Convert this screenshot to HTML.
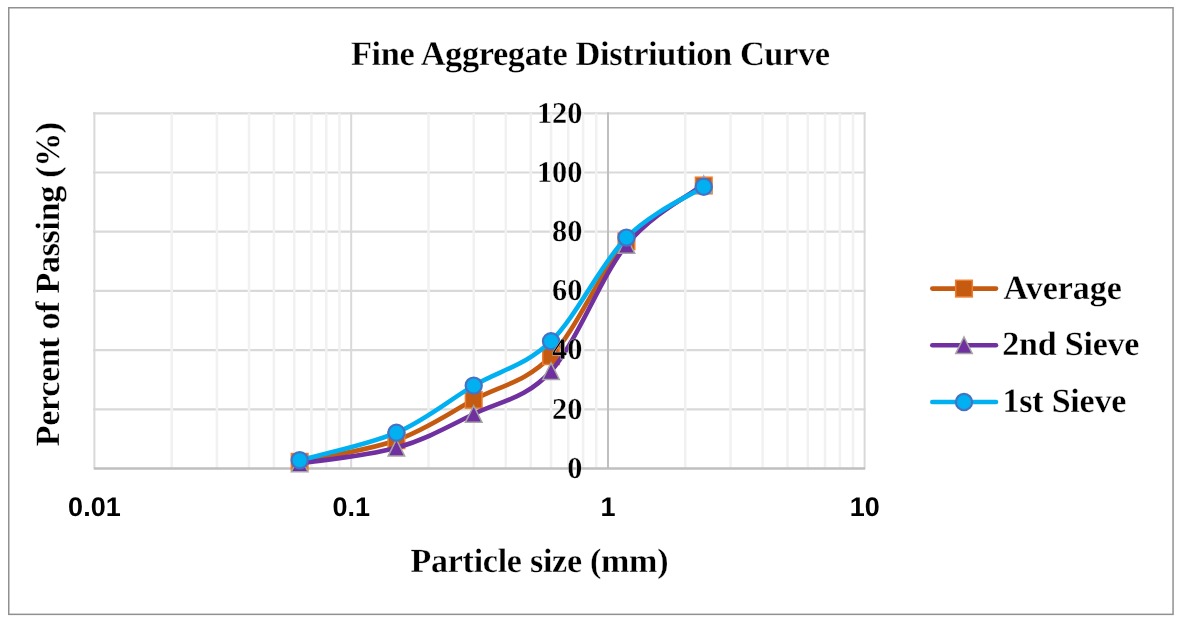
<!DOCTYPE html>
<html><head><meta charset="utf-8"><style>
html,body{margin:0;padding:0;background:#fff;}
body{width:1180px;height:622px;overflow:hidden;position:relative;}
svg{position:absolute;left:0;top:0;will-change:transform;}
text{font-family:"Liberation Serif",serif;font-weight:bold;fill:#000;text-rendering:geometricPrecision;stroke:#fff;stroke-width:0.3px;}
.yt{font-size:30.3px;}
.xt{font-family:"Liberation Sans",sans-serif;font-size:27px;stroke:none;}
.tt{font-size:34.4px;}
.at{font-size:34px;}
.lg{font-size:34px;}
</style></head><body>
<svg width="1180" height="622" viewBox="0 0 1180 622">
<rect x="0" y="0" width="1180" height="622" fill="#fff"/>
<rect x="8.75" y="7.75" width="1164.3" height="606.6" fill="#fff" stroke="#909090" stroke-width="1.5"/>
<line x1="93" y1="409.30" x2="865.6" y2="409.30" stroke="#D9D9D9" stroke-width="2.2"/>
<line x1="93" y1="350.10" x2="865.6" y2="350.10" stroke="#D9D9D9" stroke-width="2.2"/>
<line x1="93" y1="290.90" x2="865.6" y2="290.90" stroke="#D9D9D9" stroke-width="2.2"/>
<line x1="93" y1="231.70" x2="865.6" y2="231.70" stroke="#D9D9D9" stroke-width="2.2"/>
<line x1="93" y1="172.50" x2="865.6" y2="172.50" stroke="#D9D9D9" stroke-width="2.2"/>
<line x1="93" y1="113.30" x2="865.6" y2="113.30" stroke="#D9D9D9" stroke-width="2.2"/>
<line x1="171.70" y1="113.3" x2="171.70" y2="468.5" stroke="#F1F1F1" stroke-width="2.5"/>
<line x1="216.92" y1="113.3" x2="216.92" y2="468.5" stroke="#F1F1F1" stroke-width="2.5"/>
<line x1="249.01" y1="113.3" x2="249.01" y2="468.5" stroke="#F1F1F1" stroke-width="2.5"/>
<line x1="273.90" y1="113.3" x2="273.90" y2="468.5" stroke="#F1F1F1" stroke-width="2.5"/>
<line x1="294.23" y1="113.3" x2="294.23" y2="468.5" stroke="#F1F1F1" stroke-width="2.5"/>
<line x1="311.42" y1="113.3" x2="311.42" y2="468.5" stroke="#F1F1F1" stroke-width="2.5"/>
<line x1="326.31" y1="113.3" x2="326.31" y2="468.5" stroke="#F1F1F1" stroke-width="2.5"/>
<line x1="339.45" y1="113.3" x2="339.45" y2="468.5" stroke="#F1F1F1" stroke-width="2.5"/>
<line x1="428.50" y1="113.3" x2="428.50" y2="468.5" stroke="#F1F1F1" stroke-width="2.5"/>
<line x1="473.72" y1="113.3" x2="473.72" y2="468.5" stroke="#F1F1F1" stroke-width="2.5"/>
<line x1="505.81" y1="113.3" x2="505.81" y2="468.5" stroke="#F1F1F1" stroke-width="2.5"/>
<line x1="530.70" y1="113.3" x2="530.70" y2="468.5" stroke="#F1F1F1" stroke-width="2.5"/>
<line x1="551.03" y1="113.3" x2="551.03" y2="468.5" stroke="#F1F1F1" stroke-width="2.5"/>
<line x1="568.22" y1="113.3" x2="568.22" y2="468.5" stroke="#F1F1F1" stroke-width="2.5"/>
<line x1="583.11" y1="113.3" x2="583.11" y2="468.5" stroke="#F1F1F1" stroke-width="2.5"/>
<line x1="596.25" y1="113.3" x2="596.25" y2="468.5" stroke="#F1F1F1" stroke-width="2.5"/>
<line x1="685.30" y1="113.3" x2="685.30" y2="468.5" stroke="#F1F1F1" stroke-width="2.5"/>
<line x1="730.52" y1="113.3" x2="730.52" y2="468.5" stroke="#F1F1F1" stroke-width="2.5"/>
<line x1="762.61" y1="113.3" x2="762.61" y2="468.5" stroke="#F1F1F1" stroke-width="2.5"/>
<line x1="787.50" y1="113.3" x2="787.50" y2="468.5" stroke="#F1F1F1" stroke-width="2.5"/>
<line x1="807.83" y1="113.3" x2="807.83" y2="468.5" stroke="#F1F1F1" stroke-width="2.5"/>
<line x1="825.02" y1="113.3" x2="825.02" y2="468.5" stroke="#F1F1F1" stroke-width="2.5"/>
<line x1="839.91" y1="113.3" x2="839.91" y2="468.5" stroke="#F1F1F1" stroke-width="2.5"/>
<line x1="853.05" y1="113.3" x2="853.05" y2="468.5" stroke="#F1F1F1" stroke-width="2.5"/>
<line x1="94.40" y1="112.3" x2="94.40" y2="468.5" stroke="#D9D9D9" stroke-width="2"/>
<line x1="351.20" y1="112.3" x2="351.20" y2="468.5" stroke="#D9D9D9" stroke-width="2"/>
<line x1="864.60" y1="112.3" x2="864.60" y2="468.5" stroke="#D9D9D9" stroke-width="2"/>
<line x1="608.00" y1="112.3" x2="608.00" y2="468.5" stroke="#BFBFBF" stroke-width="2"/>
<line x1="93.8" y1="468.5" x2="865.2" y2="468.5" stroke="#BFBFBF" stroke-width="2.5"/>
<text x="94.40" y="516.4" text-anchor="middle" class="xt">0.01</text>
<text x="351.20" y="516.4" text-anchor="middle" class="xt">0.1</text>
<text x="608.00" y="516.4" text-anchor="middle" class="xt">1</text>
<text x="864.80" y="516.4" text-anchor="middle" class="xt">10</text>
<path d="M299.67,461.84 C315.80,458.24 367.41,450.57 396.42,440.23 C425.43,429.90 447.96,413.84 473.72,399.83 C499.49,385.82 525.57,382.59 551.03,356.17 C576.49,329.75 601.00,269.76 626.46,241.32 C651.92,212.88 690.88,194.82 703.76,185.52" fill="none" stroke="#C55A11" stroke-width="4.6" stroke-linecap="round" stroke-linejoin="round"/>
<rect x="291.37" y="453.54" width="16.6" height="16.6" fill="#C55A11" stroke="#ED7D31" stroke-width="1.5"/>
<rect x="388.12" y="431.93" width="16.6" height="16.6" fill="#C55A11" stroke="#ED7D31" stroke-width="1.5"/>
<rect x="465.42" y="391.53" width="16.6" height="16.6" fill="#C55A11" stroke="#ED7D31" stroke-width="1.5"/>
<rect x="542.73" y="347.87" width="16.6" height="16.6" fill="#C55A11" stroke="#ED7D31" stroke-width="1.5"/>
<rect x="618.16" y="233.02" width="16.6" height="16.6" fill="#C55A11" stroke="#ED7D31" stroke-width="1.5"/>
<rect x="695.46" y="177.22" width="16.6" height="16.6" fill="#C55A11" stroke="#ED7D31" stroke-width="1.5"/>
<path d="M299.67,463.47 C315.80,460.85 367.41,456.02 396.42,447.78 C425.43,439.54 447.96,426.81 473.72,414.04 C499.49,401.26 525.57,399.29 551.03,371.12 C576.49,342.95 601.00,276.15 626.46,245.02 C651.92,213.89 690.88,194.45 703.76,184.34" fill="none" stroke="#7030A0" stroke-width="4.6" stroke-linecap="round" stroke-linejoin="round"/>
<path d="M299.67,455.17 L307.97,471.77 L291.37,471.77 Z" fill="#7030A0" stroke="#A5A5A5" stroke-width="1.5" stroke-linejoin="miter"/>
<path d="M396.42,439.48 L404.72,456.08 L388.12,456.08 Z" fill="#7030A0" stroke="#A5A5A5" stroke-width="1.5" stroke-linejoin="miter"/>
<path d="M473.72,405.74 L482.02,422.34 L465.42,422.34 Z" fill="#7030A0" stroke="#A5A5A5" stroke-width="1.5" stroke-linejoin="miter"/>
<path d="M551.03,362.82 L559.33,379.42 L542.73,379.42 Z" fill="#7030A0" stroke="#A5A5A5" stroke-width="1.5" stroke-linejoin="miter"/>
<path d="M626.46,236.72 L634.76,253.32 L618.16,253.32 Z" fill="#7030A0" stroke="#A5A5A5" stroke-width="1.5" stroke-linejoin="miter"/>
<path d="M703.76,176.04 L712.06,192.64 L695.46,192.64 Z" fill="#7030A0" stroke="#A5A5A5" stroke-width="1.5" stroke-linejoin="miter"/>
<path d="M299.67,460.21 C315.80,455.62 367.41,445.12 396.42,432.68 C425.43,420.25 447.96,400.86 473.72,385.62 C499.49,370.38 525.57,365.89 551.03,341.22 C576.49,316.55 601.00,263.37 626.46,237.62 C651.92,211.87 690.88,195.19 703.76,186.71" fill="none" stroke="#00B0F0" stroke-width="4.6" stroke-linecap="round" stroke-linejoin="round"/>
<circle cx="299.67" cy="460.21" r="8.1" fill="#00B0F0" stroke="#4472C4" stroke-width="2.2"/>
<circle cx="396.42" cy="432.68" r="8.1" fill="#00B0F0" stroke="#4472C4" stroke-width="2.2"/>
<circle cx="473.72" cy="385.62" r="8.1" fill="#00B0F0" stroke="#4472C4" stroke-width="2.2"/>
<circle cx="551.03" cy="341.22" r="8.1" fill="#00B0F0" stroke="#4472C4" stroke-width="2.2"/>
<circle cx="626.46" cy="237.62" r="8.1" fill="#00B0F0" stroke="#4472C4" stroke-width="2.2"/>
<circle cx="703.76" cy="186.71" r="8.1" fill="#00B0F0" stroke="#4472C4" stroke-width="2.2"/>
<text transform="translate(582.4,477.85) scale(1,1)" x="0" y="0" text-anchor="end" class="yt">0</text>
<text transform="translate(582.4,418.65) scale(1,1)" x="0" y="0" text-anchor="end" class="yt">20</text>
<text transform="translate(582.4,359.45) scale(1,1)" x="0" y="0" text-anchor="end" class="yt">40</text>
<text transform="translate(582.4,300.25) scale(1,1)" x="0" y="0" text-anchor="end" class="yt">60</text>
<text transform="translate(582.4,241.05) scale(1,1)" x="0" y="0" text-anchor="end" class="yt">80</text>
<text transform="translate(582.4,181.85) scale(1,1)" x="0" y="0" text-anchor="end" class="yt">100</text>
<text transform="translate(582.4,122.65) scale(1,1)" x="0" y="0" text-anchor="end" class="yt">120</text>
<line x1="932.3" y1="288.60" x2="996.0" y2="288.60" stroke="#C55A11" stroke-width="4.6" stroke-linecap="round"/>
<rect x="955.70" y="280.30" width="16.6" height="16.6" fill="#C55A11" stroke="#ED7D31" stroke-width="1.5"/>
<text x="1003.6" y="298.70" textLength="118.3" lengthAdjust="spacing" class="lg">Average</text>
<line x1="932.3" y1="345.30" x2="996.0" y2="345.30" stroke="#7030A0" stroke-width="4.6" stroke-linecap="round"/>
<path d="M964.00,337.00 L972.30,353.60 L955.70,353.60 Z" fill="#7030A0" stroke="#A5A5A5" stroke-width="1.5" stroke-linejoin="miter"/>
<text x="1002.3" y="355.40" textLength="137.1" lengthAdjust="spacing" class="lg">2nd Sieve</text>
<line x1="932.3" y1="402.00" x2="996.0" y2="402.00" stroke="#00B0F0" stroke-width="4.6" stroke-linecap="round"/>
<circle cx="964.00" cy="402.00" r="8.1" fill="#00B0F0" stroke="#4472C4" stroke-width="2.2"/>
<text x="1002.5" y="412.10" textLength="123.8" lengthAdjust="spacing" class="lg">1st Sieve</text>
<text x="351.0" y="64.8" textLength="479" lengthAdjust="spacing" class="tt">Fine Aggregate Distriution Curve</text>
<text x="410.5" y="571.8" textLength="258" lengthAdjust="spacing" class="at">Particle size (mm)</text>
<text transform="translate(58.6,446.3) rotate(-90)" x="0" y="0" textLength="324.5" lengthAdjust="spacing" class="at">Percent of Passing (%)</text>
</svg>
</body></html>
